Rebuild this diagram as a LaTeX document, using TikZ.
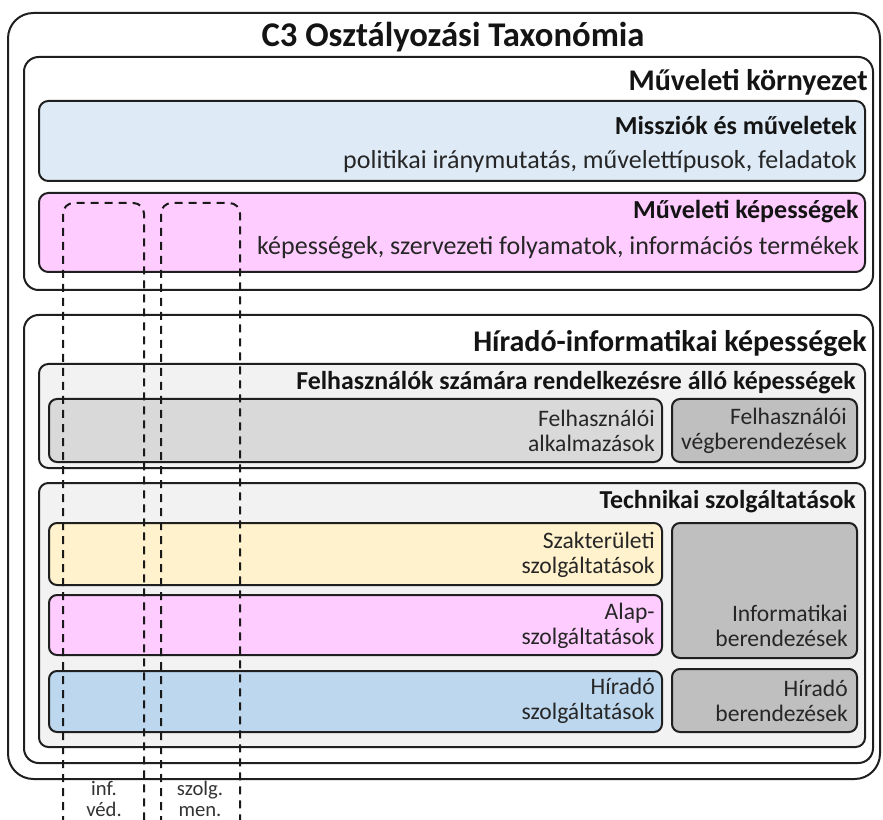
\documentclass[tikz,border=0pt]{standalone}
\usepackage{fontspec}
\setmainfont{Carlito}
\usetikzlibrary{positioning}

\begin{document}
\begin{tikzpicture}[
  x=0.75pt, y=-0.75pt,
  font=\fontsize{17.7}{18.75}\selectfont,
  panel/.style={draw=black!88, line width=1.5pt, rounded corners=#1},
  panel/.default=7pt,
  guide/.style={draw=black!90, line width=1.5pt, dash pattern=on 6pt off 4.5pt, rounded corners=8pt},
  hdr/.style={anchor=east, inner sep=0pt, font=\bfseries\fontsize{#1}{#1}\selectfont, text=black!92},
  hdr/.default=19.4,
  txt/.style={anchor=east, inner sep=0pt, align=right, text=black!85},
  colnote/.style={font=\fontsize{15.5}{15.5}\selectfont, text=black!80, inner sep=0pt},
  every node/.style={align=center}
]
\useasboundingbox (0,0) rectangle (883,820);
% outer frame
\path[panel=19pt, fill=white] (8,13) rectangle (880,779);
\node[hdr=26, anchor=center] (hdr-taxonomy) at (453,37) {C3 Osztályozási Taxonómia};
% operational environment
\path[panel=11pt, fill=white] (24,57) rectangle (873,290);
\node[hdr=22.5] (hdr-env) at (868,82) {Műveleti környezet};
\path[panel, fill={rgb,255:red,222;green,235;blue,247}] (39,101) rectangle (865,181);
\node[hdr=19.5] (hdr-missions) at (857,125) {Missziók és műveletek};
\node[txt, font=\fontsize{19.5}{20}\selectfont] (txt-missions) at (857,162) {politikai iránymutatás, művelettípusok, feladatok};
\path[panel, fill={rgb,255:red,255;green,204;blue,255}] (39,193) rectangle (865,272);
\node[hdr=19.5] (hdr-opcap) at (859,212) {Műveleti képességek};
\node[txt, font=\fontsize{19.5}{20}\selectfont] (txt-opcap) at (859,248) {képességek, szervezeti folyamatok, információs termékek};
% CIS capabilities
\path[panel=11pt, fill=white] (24,315) rectangle (873,763);
\node[hdr=22.5] (hdr-cis) at (867,343) {Híradó-informatikai képességek};
\path[panel, fill={rgb,255:red,242;green,242;blue,242}] (39,364) rectangle (865,468);
\node[hdr] (hdr-user) at (856,383) {Felhasználók számára rendelkezésre álló képességek};
\path[panel=6pt, fill={rgb,255:red,217;green,217;blue,217}] (49,399) rectangle (662,462);
\node[txt] (txt-userapp) at (655,430.5) {Felhasználói\\alkalmazások};
\path[panel=6pt, fill={rgb,255:red,191;green,191;blue,191}] (672,399) rectangle (857,462);
\node[txt] (txt-userdev) at (847,430.5) {Felhasználói\\végberendezések};
\path[panel, fill={rgb,255:red,242;green,242;blue,242}] (39,483) rectangle (865,747);
\node[hdr] (hdr-tech) at (856,502) {Technikai szolgáltatások};
\path[panel=6pt, fill={rgb,255:red,255;green,242;blue,204}] (49,523) rectangle (662,585);
\node[txt] (txt-coi) at (655,554.5) {Szakterületi\\szolgáltatások};
\path[panel=6pt, fill={rgb,255:red,255;green,204;blue,255}] (49,595) rectangle (662,655);
\node[txt] (txt-core) at (655,625.5) {Alap-\\szolgáltatások};
\path[panel=6pt, fill={rgb,255:red,189;green,215;blue,238}] (49,671) rectangle (662,732);
\node[txt] (txt-comsrv) at (655,700.5) {Híradó\\szolgáltatások};
\path[panel=6pt, fill={rgb,255:red,191;green,191;blue,191}] (672,523) rectangle (857,658);
\node[txt] (txt-itdev) at (848,625.5) {Informatikai\\berendezések};
\path[panel=6pt, fill={rgb,255:red,191;green,191;blue,191}] (672,669) rectangle (857,732);
\node[txt] (txt-comdev) at (848,700.5) {Híradó\\berendezések};
% cross-cutting columns
\draw[guide] (63,824) -- (63,203) -- (144,203) -- (144,824);
\draw[guide] (161,824) -- (161,203) -- (240,203) -- (240,824);
\node[colnote] (lbl-infsec) at (104,799) {inf.\\véd.};
\node[colnote] (lbl-svcman) at (200,799) {szolg.\\men.};
\end{tikzpicture}
\end{document}
